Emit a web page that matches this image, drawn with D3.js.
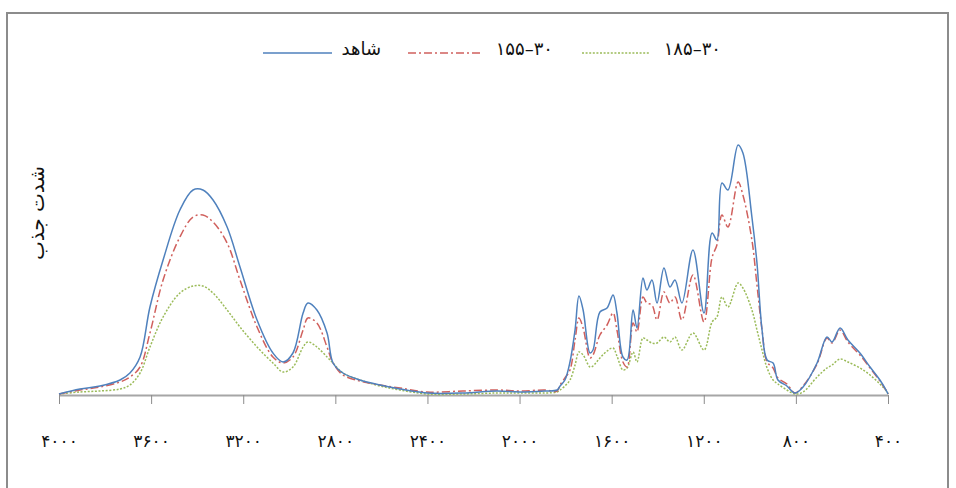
<!DOCTYPE html>
<html>
<head>
<meta charset="utf-8">
<script src="https://cdn.jsdelivr.net/npm/d3@7"></script>
<style>
  html, body { margin: 0; padding: 0; background: #fff; }
  svg { display: block; }
</style>
</head>
<body>
<svg id="chart" width="956" height="488"></svg>
<script>
// ---- data ----
const wavenumbers = [4000,3909,3822,3735,3692,3648,3605,3548,3475,3418,3375,3331,3270,3214,3140,3071,3027,2984,2940,2919,2880,2836,2810,2767,2693,2606,2519,2402,2246,2098,1998,1890,1837,1824,1803,1781,1759,1742,1724,1694,1681,1651,1620,1594,1577,1551,1533,1507,1490,1464,1447,1425,1403,1373,1347,1325,1295,1247,1199,1164,1143,1121,1095,1051,1030,991,969,947,925,899,878,839,804,769,708,665,643,608,574,522,478,435,404,400];
const control = [0.4,2.4,3.6,6,8.8,15.2,35.2,54,74,82,82,78,67.2,51.2,30,16.8,13.2,16.8,32.8,36.8,34,24.8,12.8,8.8,6,4,2.4,0.8,0.8,1.6,1.2,1.6,2,3.6,6,13.2,26,39.6,34,16.8,18,33.2,34.8,40,32.8,15.2,14,34,26.8,46.8,42,46,36.8,50.8,43.2,46,36.8,58,32.8,64.8,62,84.8,82,100,96.8,71.2,52.8,26,14,12.8,6,3.6,0.8,3.2,12.8,23.2,21.2,26.8,22,16.8,11.2,6,1.2,0.4];
const sample155 = [0.4,2,3.2,5.2,7.2,11.2,24.8,46,63.2,71.2,72,69.2,60.8,46,27.2,15.2,12.8,15.2,26,30.8,28.8,19.2,12.8,8,5.6,4,2.8,1.2,1.6,2,1.6,2,1.6,4,6.8,10,22,30.8,26.8,14.8,16,24,28,32.8,26,13.2,11.2,28.8,25.2,39.2,36.8,36,30,41.2,36.8,39.2,30,48,29.2,55,60,72,67.2,85.2,80,62,44,26,13.2,10.8,6.8,4.4,0.8,3.6,12.4,22.8,20.8,26,21.2,16,10.8,5.6,1.2,0.4];
const sample185 = [0.4,1.2,1.6,2.4,4,8.8,19.2,31.2,40.8,43.6,43.6,40.8,34,27.2,19.2,12.8,9.2,11.2,19.2,21.2,19.2,15.2,12.8,8.8,6,3.6,2,0.4,0.4,0.8,0.8,0.8,1.2,2,3.6,6,12,17.2,16,11.2,11.6,14.8,17.6,18.8,15.6,10,10.8,17.2,13.2,22.8,22,20.8,20.8,23.2,21.2,23.2,18,24.8,18,29.2,31.2,39.2,35.2,44.8,42.8,34,26,18,10.8,6,4.4,2,0.4,1.2,7.2,10.8,12,14.4,13.2,10.8,8,4.4,1.2,0.4];

const seriesNames = ["شاهد", "۱۵۵–۳۰", "۱۸۵–۳۰"];
const tickValues = [4000,3600,3200,2800,2400,2000,1600,1200,800,400];
const tickLabels = ["۴۰۰۰","۳۶۰۰","۳۲۰۰","۲۸۰۰","۲۴۰۰","۲۰۰۰","۱۶۰۰","۱۲۰۰","۸۰۰","۴۰۰"];
const yTitle = "شدت جذب";

// ---- chart ----
const svg = d3.select("#chart");
const font = "'DejaVu Sans', sans-serif";

// outer frame
svg.append("rect")
  .attr("x", 7).attr("y", 13).attr("width", 941).attr("height", 490)
  .attr("fill", "none").attr("stroke", "#8c8c8c").attr("stroke-width", 2);

const x = d3.scaleLinear().domain([4000, 400]).range([59, 888]);
const y = d3.scaleLinear().domain([0, 100]).range([395, 145]);

// axis
const axis = d3.axisBottom(x)
  .tickValues(tickValues)
  .tickFormat((d, i) => tickLabels[i])
  .tickSize(9)
  .tickSizeOuter(0)
  .tickPadding(31);

const gAxis = svg.append("g").attr("transform", "translate(0,395)").call(axis);
gAxis.select(".domain").attr("stroke", "#a6a6a6").attr("stroke-width", 2);
gAxis.selectAll(".tick line").attr("stroke", "#8c8c8c").attr("stroke-width", 1);
gAxis.selectAll(".tick text")
  .attr("font-family", font).attr("font-size", 17).attr("fill", "#111")
  .attr("letter-spacing", "3px");

// y title
svg.append("text")
  .attr("transform", "translate(44,213) rotate(-90)")
  .attr("text-anchor", "middle")
  .attr("font-family", font).attr("font-size", 20).attr("fill", "#111")
  .text(yTitle);

const series = [
  { name: seriesNames[0], values: control,   color: "#4F81BD", dash: null },
  { name: seriesNames[1], values: sample155, color: "#D0605D", dash: "8,3,2,3" },
  { name: seriesNames[2], values: sample185, color: "#9BBB59", dash: "2,1.6" }
];

const line = d3.line()
  .x(d => x(d[0]))
  .y(d => y(d[1]))
  .curve(d3.curveCatmullRom.alpha(0.5));

// draw back-to-front: green, red, blue
[2, 1, 0].forEach(i => {
  const s = series[i];
  svg.append("path")
    .datum(wavenumbers.map((w, k) => [w, s.values[k]]))
    .attr("d", line)
    .attr("fill", "none")
    .attr("stroke", s.color)
    .attr("stroke-width", 1.5)
    .attr("stroke-dasharray", s.dash);
});

// legend
const legendItems = [
  { s: series[0], x1: 263, x2: 332, tx: 381, ls: 0 },
  { s: series[1], x1: 408, x2: 480, tx: 553, ls: 2 },
  { s: series[2], x1: 582, x2: 650, tx: 721, ls: 2 }
];
legendItems.forEach(it => {
  svg.append("line")
    .attr("x1", it.x1).attr("x2", it.x2).attr("y1", 53).attr("y2", 53)
    .attr("stroke", it.s.color).attr("stroke-width", 1.5)
    .attr("stroke-dasharray", it.s.dash);
  svg.append("text")
    .attr("x", it.tx).attr("y", 55)
    .attr("text-anchor", "end")
    .attr("font-family", font).attr("font-size", 18).attr("fill", "#111")
    .attr("letter-spacing", it.ls + "px")
    .text(it.s.name);
});
</script>
</body>
</html>
